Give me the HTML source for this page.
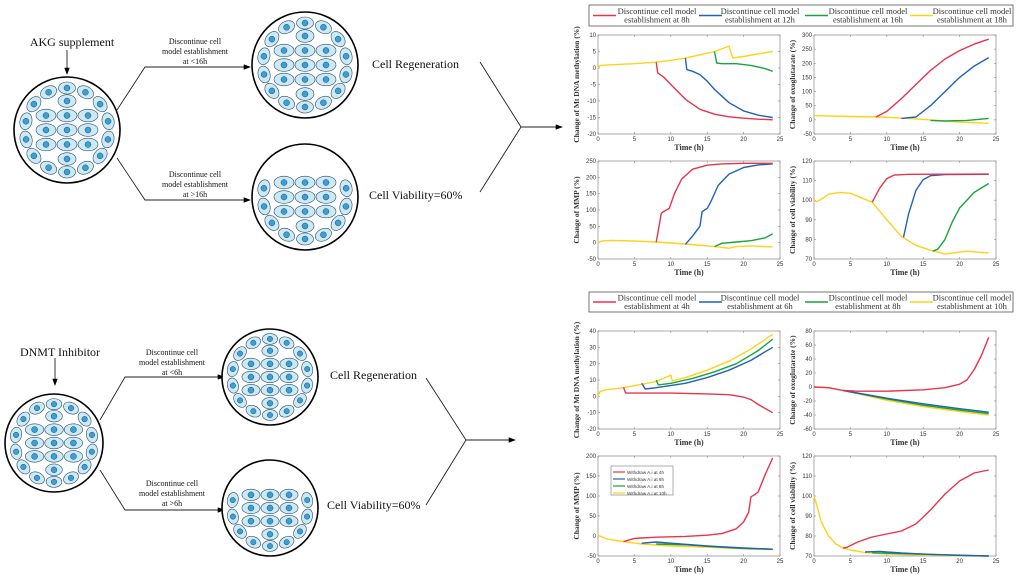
<!DOCTYPE html>
<html><head><meta charset="utf-8"><style>
html,body{margin:0;padding:0;background:#fff;width:1020px;height:580px;overflow:hidden}
svg{display:block}
.serif{font-family:"Liberation Serif",serif}
.sans{font-family:"Liberation Sans",sans-serif}
</style></head><body>
<svg id="fig" width="1020" height="580" viewBox="0 0 1020 580" xmlns="http://www.w3.org/2000/svg">
<defs><marker id="ah" markerWidth="8" markerHeight="6" refX="7" refY="3" orient="auto"><path d="M0,0 L8,3 L0,6 Z" fill="#000"/></marker></defs>
<g id="diagram"></g>
<g id="charts"></g>
</svg>
<script>
// ---------- DATA: AKG (top) ----------
const akgLegend = ["8h","12h","16h","18h"];
const akgMethRed = [[8,1.8],[8.2,-1.5],[9,-2.7],[10,-5],[12,-9.5],[14,-12.5],[16,-14],[18,-14.8],[20,-15.2],[22,-15.5],[24,-15.7]];
const akgMethBlue = [[12,3],[12.2,-0.5],[13,-1],[14,-2],[15,-4],[16,-6.5],[18,-10.5],[20,-13],[22,-14.3],[24,-15]];
const akgMethGreen = [[16,5],[16.3,1.5],[17,1.3],[19,1.3],[21,0.8],[23,-0.2],[24,-1]];
const akgMethYellow = [[0,0],[0.3,0.8],[2,1],[5,1.3],[8,1.8],[10,2.3],[12,3],[14,4],[16,5],[18,6.6],[18.5,3],[20,3.5],[22,4.3],[24,5]];
const akgOxoRed = [[8.5,10],[10,30],[12,75],[14,125],[16,175],[18,215],[20,245],[22,268],[24,285]];
const akgOxoBlue = [[12,5],[14,10],[16,50],[18,100],[20,150],[22,190],[24,220]];
const akgOxoGreen = [[16,-2],[18,-4],[21,-2],[24,5]];
const akgOxoYellow = [[0,15],[5,12],[9,10],[13,5],[17,-2],[20,-8],[24,-12]];
const akgMmpRed = [[8,1],[8.7,90],[9,95],[9.8,105],[10.5,150],[11.5,195],[13,225],[15,237],[17,241],[20,243],[24,243]];
const akgMmpBlue = [[12,-5],[13,20],[14,50],[14.3,95],[15,105],[15.5,125],[16.5,175],[18,210],[20,230],[22,238],[24,241]];
const akgMmpGreen = [[16,-12],[17,-2],[19,2],[21,6],[23,15],[24,27]];
const akgMmpYellow = [[0,0],[0.5,5],[2,7],[5,5],[8,2],[12,-4],[16,-12],[18,-17],[19,-12],[21,-10],[24,-13]];
const akgViaRed = [[8,99],[9,106],[10,111],[11,112.8],[13,113.2],[24,113.3]];
const akgViaBlue = [[12.3,81],[13,93],[14,105],[15,110.5],[16,112.5],[18,113.1],[24,113.2]];
const akgViaGreen = [[16.3,74],[17,75],[18,80],[19,89],[20,96],[22,104],[24,108.5]];
const akgViaYellow = [[0,100],[0.4,99.3],[1,100.5],[2,103],[3.5,104],[5,103.5],[8,99],[10,90],[12,81.5],[14,77],[16,74.5],[18,72.5],[19,73],[21,74],[24,73]];
// ---------- DATA: DNMT (bottom) ----------
const dnmtLegend = ["4h","6h","8h","10h"];
const dnmtMethRed = [[3.5,5.5],[3.8,2],[5,2],[10,2],[15,1.5],[18,1],[20,-0.5],[21,-2],[22,-5],[24,-10]];
const dnmtMethBlue = [[6,8],[6.5,4.5],[8,5.3],[12,8],[15,11.5],[18,16],[21,22],[24,30]];
const dnmtMethGreen = [[8,10],[8.3,7],[10,8],[13,11],[16,15],[19,20],[22,28],[24,35]];
const dnmtMethYellow = [[0,0],[0.3,3],[1,4],[3,5],[5,6.5],[8,9],[10,13],[10.2,9.5],[12,11.5],[15,16],[18,21.5],[21,29],[24,38]];
const dnmtOxoRed = [[0,0],[2,-1],[4,-5],[6,-6],[10,-6],[15,-4],[18,-1],[20,4],[21,10],[22,25],[23,45],[24,71]];
const dnmtOxoBlue = [[4,-5],[10,-16],[15,-24],[20,-31],[24,-36]];
const dnmtOxoGreen = [[4,-5],[10,-17],[15,-26],[20,-33],[24,-38]];
const dnmtOxoYellow = [[0,0],[2,-1],[4,-5],[10,-19],[15,-28],[20,-35],[24,-40]];
const dnmtMmpRed = [[3.5,-14],[5,-6],[8,-3],[12,-1],[15,2],[17,6],[19,18],[20,35],[20.7,60],[21,98],[21.5,103],[22,110],[23,155],[24,195]];
const dnmtMmpBlue = [[6,-18],[8,-15],[10,-18],[15,-25],[20,-30],[24,-33]];
const dnmtMmpGreen = [[8,-20],[12,-22],[16,-27],[20,-31],[24,-33]];
const dnmtMmpYellow = [[0,2],[1,-6],[2,-10],[4,-15],[6,-20],[10,-25],[15,-28],[20,-32],[24,-34]];
const dnmtViaRed = [[4,74],[4.5,74.3],[6,77],[8,79.5],[10,81],[12,82.5],[14,86],[16,93],[18,101],[20,107.5],[22,111.5],[24,113]];
const dnmtViaBlue = [[7,72],[9,72.3],[12,71.5],[16,70.8],[20,70.3],[24,70]];
const dnmtViaGreen = [[8,71.6],[12,71.2],[24,70]];
const dnmtViaYellow = [[0,100],[0.5,94],[1,87],[2,80],[3,76],[4,74],[5,73],[7,71.7],[10,71],[15,70.4],[20,70.1],[24,70]];
const xTicks = [0,5,10,15,20,25];
const innerLegend = ["Withdraw A.i at 4h","Withdraw A.i at 6h","Withdraw A.i at 8h","Withdraw A.i at 10h"];

const NS="http://www.w3.org/2000/svg";
const COL=["#e8344a","#1f63b8","#1aa43c","#ffd21a"];
function mk(tag,attrs,parent){const e=document.createElementNS(NS,tag);for(const k in attrs)e.setAttribute(k,attrs[k]);if(parent)parent.appendChild(e);return e;}
const charts=document.getElementById('charts');
const diag=document.getElementById('diagram');

function chart(name,x0,x1,yTop,yBot,ymin,ymax,ystep,ylabel,series){
  const g=mk('g',{},charts);
  
  
  const sx=v=>x0+(v-0)/(25-0)*(x1-x0);
  const sy=v=>yBot-(v-ymin)/(ymax-ymin)*(yBot-yTop);
  const box=mk('rect',{x:x0,y:yTop,width:x1-x0,height:yBot-yTop,fill:'#fff',stroke:'#888','stroke-width':0.7},g);
  
  
  xTicks.forEach(t=>{
    const X=sx(t);
    mk('line',{x1:X,y1:yBot,x2:X,y2:yBot-2,stroke:'#888','stroke-width':0.6},g);
    mk('line',{x1:X,y1:yTop,x2:X,y2:yTop+2,stroke:'#888','stroke-width':0.6},g);
    const tx=mk('text',{x:X,y:yBot+7,'font-size':6,'text-anchor':'middle',fill:'#333',class:'sans'},g);
    tx.textContent=t;
    
    
  });
  for(let v=ymin;v<=ymax+1e-9;v+=ystep){
    const Y=sy(v);
    mk('line',{x1:x0,y1:Y,x2:x0+2,y2:Y,stroke:'#888','stroke-width':0.6},g);
    mk('line',{x1:x1,y1:Y,x2:x1-2,y2:Y,stroke:'#888','stroke-width':0.6},g);
    const ty=mk('text',{x:x0-2,y:Y+2,'font-size':6,'text-anchor':'end',fill:'#333',class:'sans'},g);
    ty.textContent=v;
    
    
  }
  const xl=mk('text',{x:(x0+x1)/2,y:yBot+16,'font-size':8,'font-weight':'bold','text-anchor':'middle',fill:'#333',class:'serif'},g);
  xl.textContent='Time (h)';
  
  
  const ym=(yTop+yBot)/2;
  const yl=mk('text',{x:x0-19,y:ym,'font-size':7.5,'font-weight':'bold','text-anchor':'middle',fill:'#333',class:'serif',transform:`rotate(-90 ${x0-19} ${ym})`},g);
  yl.textContent=ylabel;
  
  
  const order=[3,2,1,0];
  order.forEach(i=>{
    const pts=series[i].map(p=>sx(p[0]).toFixed(1)+','+sy(p[1]).toFixed(1)).join(' ');
    const pl=mk('polyline',{points:pts,fill:'none',stroke:COL[i],'stroke-width':1.4,'stroke-linejoin':'round'},g);
    
    
  });
  return g;
}
function legend(y0,y1,labels){
  const g=mk('g',{},charts);
  
  
  mk('rect',{x:589,y:y0,width:424,height:y1-y0,fill:'#fff',stroke:'#555','stroke-width':0.8},g);
  const lx=[593,699,805,910], tx=[657,760,868,972];
  labels.forEach((l,i)=>{
    const e=mk('g',{},g);
    
    
    const ym=(y0+y1)/2;
    mk('line',{x1:lx[i],y1:ym,x2:lx[i]+23,y2:ym,stroke:COL[i],'stroke-width':1.5},e);
    const t1=mk('text',{x:tx[i],y:ym-1.5,'font-size':8.5,'text-anchor':'middle',fill:'#333',class:'serif'},e);
    t1.textContent='Discontinue cell model';
    const t2=mk('text',{x:tx[i],y:ym+7,'font-size':8.5,'text-anchor':'middle',fill:'#333',class:'serif'},e);
    t2.textContent='establishment at '+l;
  });
}
legend(5,26,akgLegend);
chart('akg-methylation-chart',598,780,35,134,-20,10,5,'Change of Mt DNA methylation (%)',[akgMethRed,akgMethBlue,akgMethGreen,akgMethYellow]);
chart('akg-oxoglutarate-chart',814,996,35,134,-50,300,50,'Change of oxoglutarate (%)',[akgOxoRed,akgOxoBlue,akgOxoGreen,akgOxoYellow]);
chart('akg-mmp-chart',598,780,161,259,-50,250,50,'Change of MMP (%)',[akgMmpRed,akgMmpBlue,akgMmpGreen,akgMmpYellow]);
chart('akg-viability-chart',814,996,161,259,70,120,10,'Change of cell viability (%)',[akgViaRed,akgViaBlue,akgViaGreen,akgViaYellow]);
legend(292,312,dnmtLegend);
chart('dnmt-methylation-chart',598,780,331,429,-20,40,10,'Change of Mt DNA methylation (%)',[dnmtMethRed,dnmtMethBlue,dnmtMethGreen,dnmtMethYellow]);
chart('dnmt-oxoglutarate-chart',814,996,331,429,-60,80,20,'Change of oxoglutarate (%)',[dnmtOxoRed,dnmtOxoBlue,dnmtOxoGreen,dnmtOxoYellow]);
chart('dnmt-mmp-chart',598,780,456,556,-50,200,50,'Change of MMP (%)',[dnmtMmpRed,dnmtMmpBlue,dnmtMmpGreen,dnmtMmpYellow]);
chart('dnmt-viability-chart',814,996,456,556,70,120,10,'Change of cell viability (%)',[dnmtViaRed,dnmtViaBlue,dnmtViaGreen,dnmtViaYellow]);
(function(){
  const g=mk('g',{},charts);
  
  
  mk('rect',{x:611,y:466,width:62,height:29,fill:'#fff',stroke:'#777','stroke-width':0.6},g);
  innerLegend.forEach((l,i)=>{
    const y=472+i*7;
    mk('line',{x1:613,y1:y,x2:625,y2:y,stroke:COL[i],'stroke-width':1.2},g);
    const t=mk('text',{x:627,y:y+2,'font-size':4.6,fill:'#333',class:'sans'},g);
    t.textContent=l;
  });
})();

// ---------- DIAGRAM ----------
function cell(g,x,y,rx,ry,rot){
  mk('ellipse',{cx:x,cy:y,rx:rx,ry:ry,fill:'#cde9f5',stroke:'#2b4f66','stroke-width':0.6,transform:`rotate(${rot} ${x} ${y})`},g);
  mk('circle',{cx:x,cy:y,r:Math.min(3,rx*0.35),fill:'#3aa0d6',stroke:'#1b4a66','stroke-width':0.5},g);
}
function dish(name,cx,cy,r,full){
  const g=mk('g',{},diag);
  
  
  mk('circle',{cx:cx,cy:cy,r:r,fill:'#fff',stroke:'#000','stroke-width':1.6},g);
  const s=r/53;
  for(let i=-1;i<=1;i++)for(let j=-1;j<=1;j++)cell(g,cx+j*21*s,cy+i*14.5*s,10*s,6.3*s,0);
  cell(g,cx,cy+29*s,9*s,6.3*s,0);
  if(full)cell(g,cx,cy-29*s,9*s,6.3*s,0);
  const ring=full?[0,26,52,78,103,128,154,180,206,232,257,282,308,334]:[78,103,128,154,180,206,232,257,282];
  ring.forEach(a=>{const A=a*Math.PI/180;cell(g,cx+Math.sin(A)*42*s,cy-Math.cos(A)*42*s,8.5*s,6*s,a);});
}
function txt(name,x,y,size,s,anchor){
  const t=mk('text',{x:x,y:y,'font-size':size,'text-anchor':anchor||'middle',fill:'#111',class:'serif'},diag);
  t.textContent=s;
  
  
}
function ln(pts,arrow){
  const p=mk('polyline',{points:pts,fill:'none',stroke:'#222','stroke-width':0.9},diag);
  if(arrow)p.setAttribute('marker-end','url(#ah)');
  
  
}
txt('akg-supplement-label',72,46,12,'AKG supplement');
ln('67,50 67,74',true);
dish('initial-dish-akg',67,130,53,true);
ln('117,110 145,67 250,67',true);
ln('117,158 145,200 250,200',true);
txt('condition-lt16-line1',195,44,8,'Discontinue cell');
txt('condition-lt16-line2',195,54,8,'model establishment');
txt('condition-lt16-line3',195,64,8,'at <16h');
txt('condition-gt16-line1',195,177,8,'Discontinue cell');
txt('condition-gt16-line2',195,187,8,'model establishment');
txt('condition-gt16-line3',195,197,8,'at >16h');
dish('regeneration-dish-akg',305,65,53,true);
dish('viability-dish-akg',305,197,53,false);
txt('cell-regeneration-label-akg',372,68,12,'Cell  Regeneration','start');
txt('cell-viability-label-akg',369,199,12,'Cell Viability=60%','start');
ln('480,62 521,127',false);ln('480,192 521,127',false);
ln('521,127 562,127',true);
txt('dnmt-inhibitor-label',60,356,12,'DNMT Inhibitor');
ln('55,358 55,385',true);
dish('initial-dish-dnmt',54,443,49,true);
ln('100,420 125,377 224,377',true);
ln('100,470 125,510 224,510',true);
txt('condition-lt6-line1',172,355,8,'Discontinue cell');
txt('condition-lt6-line2',172,365,8,'model establishment');
txt('condition-lt6-line3',172,375,8,'at <6h');
txt('condition-gt6-line1',172,486,8,'Discontinue cell');
txt('condition-gt6-line2',172,496,8,'model establishment');
txt('condition-gt6-line3',172,506,8,'at >6h');
dish('regeneration-dish-dnmt',270,377,48,true);
dish('viability-dish-dnmt',270,508,48,false);
txt('cell-regeneration-label-dnmt',330,379,12,'Cell  Regeneration','start');
txt('cell-viability-label-dnmt',327,509,12,'Cell Viability=60%','start');
ln('426,378 466,440',false);ln('426,505 466,440',false);
ln('466,440 515,440',true);
</script>
</body></html>
